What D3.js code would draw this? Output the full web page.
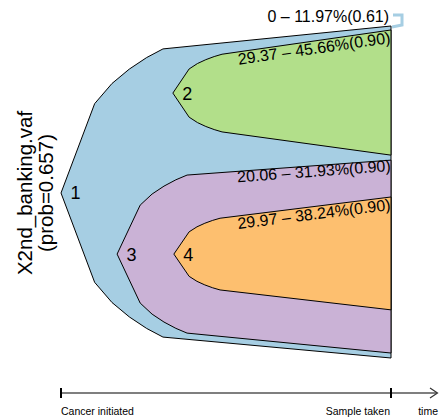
<!DOCTYPE html>
<html><head><meta charset="utf-8">
<script src="https://cdn.jsdelivr.net/npm/d3@7"></script>
<style>body{margin:0;background:#fff}svg{display:block}text{font-family:"Liberation Sans",Arial,Helvetica,sans-serif}</style>
</head><body><svg id="c" width="439" height="417"></svg>
<script>
// ---- data ----
const cloneIds = ["1","2","3","4"];
const cloneColors = ["#a6cee3","#b2df8a","#cab2d6","#fdbf6f"];
const cloneLabels = ["0 \u2013 11.97%(0.61)","29.37 \u2013 45.66%(0.90)","20.06 \u2013 31.93%(0.90)","29.97 \u2013 38.24%(0.90)"];
const emergeTime = [0, 0.339, 0.170, 0.342];
const bellEndTime = [0.309, 0.488, 0.382, 0.482];
const cloneCenter = [0.503, 0.202, 0.687, 0.687];
const bellHalfHeight = [0.434, 0.117, 0.238, 0.108];
const sampleTop = [0, 0.012, 0.404, 0.515];
const sampleBottom = [1, 0.389, 0.985, 0.855];
const labelOffset = [0, 0.039, 0.033, 0.039];
const timeTicks = [0, 1];
const timeTickLabels = ["Cancer initiated", "Sample taken"];
const sampleName = "X2nd_banking.vaf";
const sampleProb = "(prob=0.657)";

// ---- scales ----
const svg = d3.select("#c");
const x = d3.scaleLinear().domain([0,1]).range([61,391]);
const y = d3.scaleLinear().domain([0,1]).range([26,358]);
const h = d3.scaleLinear().domain([0,1]).range([0,332]);

// bell profile (shape)
const pu = [0,0.33,0.5,0.67,0.84,1];
const pv = [0,0.62,0.76,0.86,0.94,1];

function clonePath(i){
  const x0 = x(emergeTime[i]), x1 = x(bellEndTime[i]);
  const yc = y(cloneCenter[i]), hh = h(bellHalfHeight[i]);
  const top = pu.map((u,k)=>[x0+u*(x1-x0), yc - pv[k]*hh]);
  const bot = pu.map((u,k)=>[x0+u*(x1-x0), yc + pv[k]*hh]).reverse();
  const pts = top.concat([[x(1), y(sampleTop[i])],[x(1), y(sampleBottom[i])]]).concat(bot);
  return d3.line()(pts) + "Z";
}

const g = svg.append("g");
cloneIds.forEach((id,i)=>{
  g.append("path").attr("d", clonePath(i))
    .attr("fill", cloneColors[i]).attr("stroke","#000").attr("stroke-width",1)
    .attr("stroke-linejoin","miter");
});
cloneIds.forEach((id,i)=>{
  g.append("text").attr("x", x(emergeTime[i]) + 9.5).attr("y", y(cloneCenter[i]) + 6.5)
    .attr("font-size", 18).text(id);
});

// cell fraction labels
cloneIds.forEach((id,i)=>{
  if (i === 0){
    g.append("text").attr("x", 389).attr("y", y(sampleTop[0]) - 4.5)
      .attr("text-anchor","end").attr("font-size",16).text(cloneLabels[0]);
    g.append("path")
      .attr("d", d3.line()([[x(1)+1, y(0)+1],[x(1)+11, y(0)-1],[x(1)+11, y(0)-11],[x(1)+2, y(0)-11]]))
      .attr("fill","none").attr("stroke", cloneColors[0]).attr("stroke-width",3);
    return;
  }
  const xa = x(bellEndTime[i]), ya = y(cloneCenter[i]) - h(bellHalfHeight[i]);
  const xb = x(1), yb = y(sampleTop[i]);
  const ang = Math.atan2(yb-ya, xb-xa) * 180/Math.PI;
  g.append("text")
    .attr("transform", `translate(${xb},${yb + h(labelOffset[i])}) rotate(${ang})`)
    .attr("text-anchor","end").attr("font-size",16).text(cloneLabels[i]);
});

// sample label
const yl = y(cloneCenter[0]);
svg.append("text").attr("transform",`translate(32,${yl}) rotate(-90)`)
  .attr("text-anchor","middle").attr("font-size",20.5).text(sampleName);
svg.append("text").attr("transform",`translate(53,${yl}) rotate(-90)`)
  .attr("text-anchor","middle").attr("font-size",20.5).text(sampleProb);

// time axis
const ay = 393;
const ax = svg.append("g");
ax.append("line").attr("x1", x(0)).attr("x2", 437).attr("y1", ay).attr("y2", ay)
  .attr("stroke","#555").attr("stroke-width",1.5);
ax.append("path").attr("d", d3.line()([[430,388],[437.5,ay],[430,398]]))
  .attr("fill","none").attr("stroke","#333").attr("stroke-width",1.2);
timeTicks.forEach((t,i)=>{
  ax.append("line").attr("x1", x(t)).attr("x2", x(t)).attr("y1", ay-5).attr("y2", ay+5)
    .attr("stroke","#000").attr("stroke-width",2);
  ax.append("text").attr("x", i===0 ? x(t) : x(t)-1).attr("y", 415)
    .attr("text-anchor", i===0 ? "start" : "end").attr("font-size",10.5).text(timeTickLabels[i]);
});
ax.append("text").attr("x",438).attr("y",415).attr("text-anchor","end").attr("font-size",10.5).text("time");
</script></body></html>
